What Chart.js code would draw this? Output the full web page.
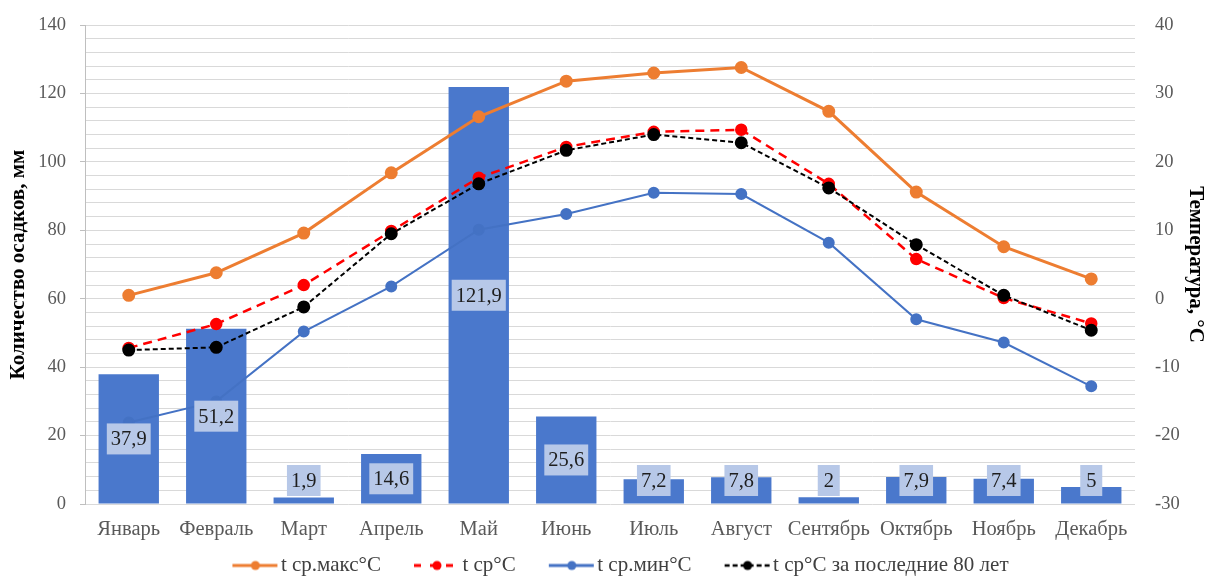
<!DOCTYPE html>
<html>
<head>
<meta charset="utf-8">
<script src="https://cdn.jsdelivr.net/npm/chart.js@4.4.1/dist/chart.umd.min.js"></script>
<style>
  html, body { margin: 0; padding: 0; background: #fff; }
  #wrap { width: 1212px; height: 577px; }
</style>
</head>
<body>
<div id="wrap"><canvas id="climateChart"></canvas></div>
<script>
const months = ['Январь', 'Февраль', 'Март', 'Апрель', 'Май', 'Июнь', 'Июль', 'Август', 'Сентябрь', 'Октябрь', 'Ноябрь', 'Декабрь'];
const precipitation = [37.9, 51.2, 1.9, 14.6, 121.9, 25.6, 7.2, 7.8, 2, 7.9, 7.4, 5];
const tMax = [0.5, 3.8, 9.6, 18.4, 26.6, 31.8, 33.0, 33.8, 27.4, 15.6, 7.6, 2.9];
const tMean = [-7.2, -3.7, 2.0, 9.9, 17.7, 22.2, 24.4, 24.7, 16.8, 5.8, 0.1, -3.6];
const tMin = [-18.1, -15.0, -4.8, 1.8, 10.1, 12.4, 15.5, 15.3, 8.2, -3.0, -6.4, -12.8];
const tMean80 = [-7.5, -7.1, -1.2, 9.5, 16.8, 21.7, 24.0, 22.8, 16.2, 7.9, 0.5, -4.6];

const serif = '"Liberation Serif", "Times New Roman", serif';
const MARK_W = 67;           // room reserved for each legend marker
const MARK_CW = MARK_W + 16; // marker canvas, drawn centred on that room

// legend markers: a line with a dot, pushed to the right end so it sits next to the text
function legendMark(color, dash, width) {
    const c = document.createElement('canvas');
    c.width = MARK_CW; c.height = 14;
    const g = c.getContext('2d');
    const x0 = MARK_CW - 46;
    g.strokeStyle = color;
    g.lineWidth = width;
    g.setLineDash(dash);
    g.beginPath();
    g.moveTo(x0, 7);
    g.lineTo(MARK_CW - 1, 7);
    g.stroke();
    g.setLineDash([]);
    g.fillStyle = color;
    g.beginPath();
    g.arc(x0 + 23, 7, 4.5, 0, 2 * Math.PI);
    g.fill();
    return c;
}

const marks = [
    null,
    legendMark('#ed7d31', [], 3),
    legendMark('#ff0000', [7, 9], 3),
    legendMark('#4472c4', [], 3),
    legendMark('#000000', [5, 3], 2.5)
];

const barLabels = {
    id: 'barLabels',
    afterDatasetsDraw(chart) {
        const {ctx} = chart;
        const meta = chart.getDatasetMeta(0);
        ctx.save();
        ctx.font = '20.5px ' + serif;
        ctx.textAlign = 'center';
        ctx.textBaseline = 'middle';
        meta.data.forEach((bar, i) => {
            const text = String(precipitation[i]).replace('.', ',');
            const w = Math.max(ctx.measureText(text).width + 8, 22);
            const h = 31;
            let cy = (bar.y + bar.base) / 2;
            cy = Math.min(cy, bar.base - 23);
            ctx.fillStyle = '#b7c8e8';
            ctx.fillRect(bar.x - w / 2, cy - h / 2, w, h);
            ctx.fillStyle = '#1e1e1e';
            ctx.fillText(text, bar.x, cy + 1);
        });
        ctx.restore();
    }
};

new Chart(document.getElementById('climateChart'), {
    data: {
        labels: months,
        datasets: [
            {
                type: 'bar',
                label: 'Осадки',
                data: precipitation,
                yAxisID: 'y',
                backgroundColor: '#4a78cc',
                categoryPercentage: 1,
                barPercentage: 0.69,
                order: 5
            },
            {
                type: 'line',
                label: 't ср.макс°C',
                data: tMax,
                yAxisID: 'y1',
                borderColor: '#ed7d31',
                backgroundColor: '#ed7d31',
                borderWidth: 3,
                pointRadius: 5,
                tension: 0,
                order: 0
            },
            {
                type: 'line',
                label: 't ср°C',
                data: tMean,
                yAxisID: 'y1',
                borderColor: '#ff0000',
                backgroundColor: '#ff0000',
                borderWidth: 2.5,
                borderDash: [9, 6],
                pointRadius: 5,
                tension: 0,
                order: 2
            },
            {
                type: 'line',
                label: 't ср.мин°C',
                data: tMin,
                yAxisID: 'y1',
                borderColor: '#4472c4',
                backgroundColor: '#4472c4',
                borderWidth: 2,
                pointRadius: 5,
                tension: 0,
                order: 3
            },
            {
                type: 'line',
                label: 't ср°C за последние 80 лет',
                data: tMean80,
                yAxisID: 'y1',
                borderColor: '#000000',
                backgroundColor: '#000000',
                borderWidth: 2,
                borderDash: [5, 3],
                pointRadius: 5.5,
                tension: 0,
                order: 1
            }
        ]
    },
    options: {
        responsive: true,
        maintainAspectRatio: false,
        animation: false,
        layout: { padding: { top: 20, bottom: -9, left: 0, right: 0 } },
        plugins: {
            tooltip: { enabled: false },
            legend: {
                position: 'bottom',
                labels: {
                    generateLabels(chart) {
                        const items = Chart.defaults.plugins.legend.labels.generateLabels(chart);
                        items.forEach(it => { it.pointStyle = marks[it.datasetIndex]; });
                        return items;
                    },
                    filter: item => item.datasetIndex !== 0,
                    sort: (a, b) => a.datasetIndex - b.datasetIndex,
                    usePointStyle: true,
                    pointStyleWidth: MARK_W,
                    padding: 4,
                    color: '#404040',
                    font: { family: serif, size: 21 }
                }
            }
        },
        scales: {
            x: {
                afterFit(scale) { scale.height = 47; },
                grid: { display: false },
                border: { display: false },
                ticks: {
                    color: '#595959',
                    padding: 5,
                    maxRotation: 0,
                    font: { family: serif, size: 20.5 }
                }
            },
            y: {
                position: 'left',
                min: 0,
                max: 140,
                afterFit(scale) { scale.width = 85; },
                grid: {
                    color: '#d9d9d9',
                    lineWidth: 1,
                    tickLength: 5,
                    tickColor: c => (c.tick && c.tick.value % 20 === 0) ? '#bfbfbf' : 'rgba(0,0,0,0)'
                },
                border: { display: true, color: '#bfbfbf' },
                ticks: {
                    stepSize: 4,
                    autoSkip: false,
                    color: '#595959',
                    padding: 14,
                    font: { family: serif, size: 18.5 },
                    callback: v => (v % 20 === 0 ? v : '')
                },
                title: {
                    display: true,
                    text: 'Количество осадков, мм',
                    color: '#000',
                    padding: { top: 6, bottom: 2 },
                    font: { family: serif, size: 21, weight: 'bold' }
                }
            },
            y1: {
                position: 'right',
                min: -30,
                max: 40,
                afterFit(scale) { scale.width = 77; },
                grid: { display: false, drawOnChartArea: false },
                border: { display: false },
                ticks: {
                    stepSize: 10,
                    color: '#595959',
                    padding: 12,
                    font: { family: serif, size: 18.5 }
                },
                title: {
                    display: true,
                    text: 'Температура, °C',
                    color: '#000',
                    padding: { top: 4, bottom: 2 },
                    font: { family: serif, size: 21, weight: 'bold' }
                }
            }
        }
    },
    plugins: [barLabels]
});
</script>
</body>
</html>
